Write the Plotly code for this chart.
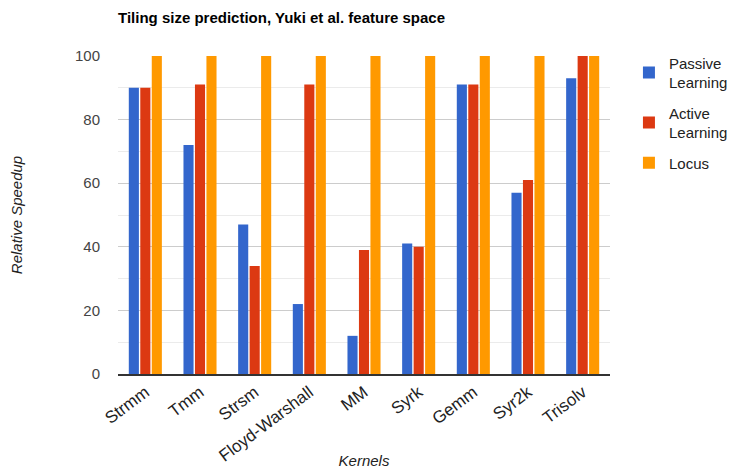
import plotly.graph_objects as go

kernels = ["Strmm", "Tmm", "Strsm", "Floyd-Warshall", "MM", "Syrk", "Gemm", "Syr2k", "Trisolv"]
passive = [90, 72, 47, 22, 12, 41, 91, 57, 93]
active = [90, 91, 34, 91, 39, 40, 91, 61, 100]
locus = [100, 100, 100, 100, 100, 100, 100, 100, 100]
y_ticks = [0, 20, 40, 60, 80, 100]

font = "Liberation Sans, Arial, sans-serif"
fig = go.Figure()
for name, vals, col in [("Passive<br>Learning", passive, "#3366cc"),
                        ("Active<br>Learning", active, "#dc3912"),
                        ("Locus", locus, "#ff9900")]:
    fig.add_trace(go.Bar(x=kernels, y=vals, name=name, marker_color=col,
                         marker_line_width=0, legendgroup=name))

fig.update_layout(
    width=733, height=469,
    margin=dict(l=118, r=123, t=56, b=95, autoexpand=False),
    paper_bgcolor="white", plot_bgcolor="white",
    barmode="group", bargap=0.37, bargroupgap=0.12,
    font=dict(family=font, size=15, color="#444"),
    title=dict(text="<b>Tiling size prediction, Yuki et al. feature space</b>",
               x=118/733, xanchor="left", y=1-18/469, yanchor="middle",
               font=dict(size=15, color="#000")),
    legend=dict(x=1.0385, y=1.03, xanchor="left", yanchor="top",
                font=dict(size=15, color="#222"), tracegroupgap=8,
                itemwidth=30),
    xaxis=dict(tickangle=-37, showline=True, linecolor="#333", linewidth=1.5,
               automargin=False,
               tickfont=dict(size=17, color="#222"),
               title=dict(text="<i>Kernels</i>", font=dict(size=15, color="#222"), standoff=55)),
    yaxis=dict(range=[0, 100], tickvals=y_ticks, gridcolor="#cccccc",
               automargin=False,
               minor=dict(dtick=10, showgrid=True, gridcolor="#ebebeb"),
               zeroline=False, tickfont=dict(size=15, color="#444"),
               ticks="", ticklabelstandoff=17,
               title=dict(text="<i>Relative Speedup</i>", font=dict(size=15, color="#222"), standoff=48)),
)
fig.write_html("out.html", config={"displayModeBar": False},
               post_script="document.body.style.margin='0';")
